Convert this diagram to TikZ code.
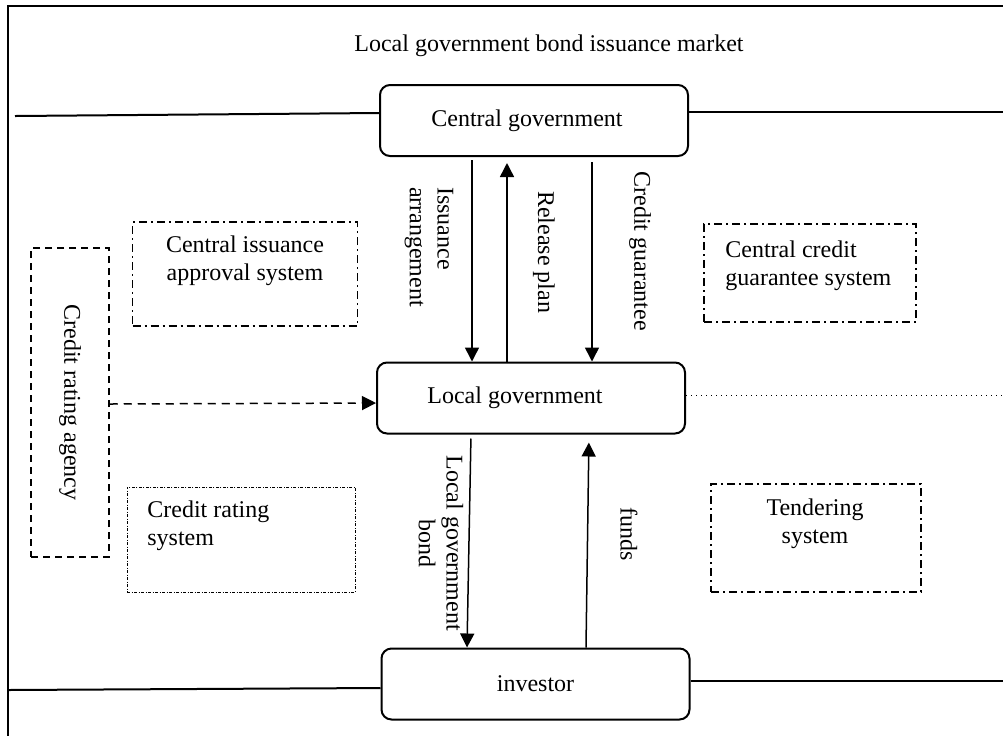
\documentclass[tikz,border=0pt]{standalone}
\usepackage{fontspec}
\setmainfont{Liberation Serif}
\usetikzlibrary{arrows.meta}

\begin{document}
\begin{tikzpicture}[x=0.5pt, y=-0.5pt, font=\fontsize{12}{13.8}\selectfont,
    main/.style = {draw, line width=1pt, rounded corners=5pt, minimum width=154pt, minimum height=35.5pt, inner sep=0pt},
    arr/.style = {line width=0.75pt, -{Triangle[length=7pt, width=7pt]}},
    lbl/.style = {rotate=-90, inner sep=0pt},
    txt/.style = {inner sep=0pt},
    dashbox/.style = {draw, line width=0.75pt, dash pattern=on 3.5pt off 2.5pt},
    dotbox/.style = {draw, line width=0.75pt, dash pattern=on 4pt off 2pt on 1pt off 2pt},
    finebox/.style = {draw, line width=0.4pt, dash pattern=on 1.5pt off 0.75pt on 0.5pt off 0.75pt}]
    \useasboundingbox (0,0) rectangle (1003,736);
    \draw[line width=1pt] (1003,6) -- (8,6) -- (8,736);
    \node[txt] (t) at (549,46) {Local government bond issuance market};
    % the three actors
    \node[main] (c) at (534,120.5) {Central government\kern7pt};
    \node[main] (l) at (531,398) {Local government\kern16pt};
    \node[main] (i) at (535.5,684) {investor};
    % market lines
    \draw[line width=1pt] (15,116) -- (c.west |- 0,113);
    \draw[line width=1pt] (c.east |- 0,112) -- (1003,112);
    \draw[line width=0.5pt, dotted] (l.east |- 0,395) -- (1003,395);
    \draw[line width=1pt] (8,690) -- (i.west |- 0,688);
    \draw[line width=1pt] (i.east |- 0,681) -- (1003,681);
    % systems
    \node[dashbox, minimum width=39pt, minimum height=154.5pt] (a) at (70,402.5) {};
    \node[lbl] (at) at (a) {Credit rating agency};
    \node[dotbox, minimum width=112.5pt, minimum height=52pt] (s1) at (245,274) {};
    \node[txt, align=center] (t1) at (245,261) {Central issuance\\approval system};
    \node[dotbox, minimum width=106pt, minimum height=49pt] (s2) at (810,273) {};
    \node[txt, align=left, anchor=west] (t2) at (725,266) {Central credit\\guarantee system};
    \node[finebox, minimum width=114pt, minimum height=52.5pt] (s3) at (241,539.5) {};
    \node[txt, align=left, anchor=west] (t3) at (147,526) {Credit rating\\system};
    \node[dotbox, minimum width=105pt, minimum height=54pt] (s4) at (816,538) {};
    \node[txt, align=center] (t4) at (815,524) {Tendering\\system};
    % flows
    \draw[arr, shorten <=1.5pt] (472,0 |- c.south) -- (472,0 |- l.north);
    \draw[arr, shorten >=3pt] (507,0 |- l.north) -- (507,0 |- c.south);
    \draw[arr, shorten <=2.5pt] (592,0 |- c.south) -- (592,0 |- l.north);
    \draw[arr, shorten <=2pt] (471,0 |- l.south) -- (467,0 |- i.north);
    \draw[arr, shorten >=4pt] (586,0 |- i.north) -- (589,0 |- l.south);
    \draw[arr, line width=0.75pt, dash pattern=on 4pt off 3pt] (a.east |- 0,404) -- (l.west |- 0,403);
    \node[lbl, align=left] (f1) at (429,247) {Issuance\\arrangement};
    \node[lbl] (f2) at (544,252) {Release plan};
    \node[lbl] (f3) at (640,251) {Credit guarantee};
    \node[lbl, align=center] (f4) at (441,543) {Local government\\bond};
    \node[lbl] (f5) at (629,534) {funds};
\end{tikzpicture}
\end{document}
